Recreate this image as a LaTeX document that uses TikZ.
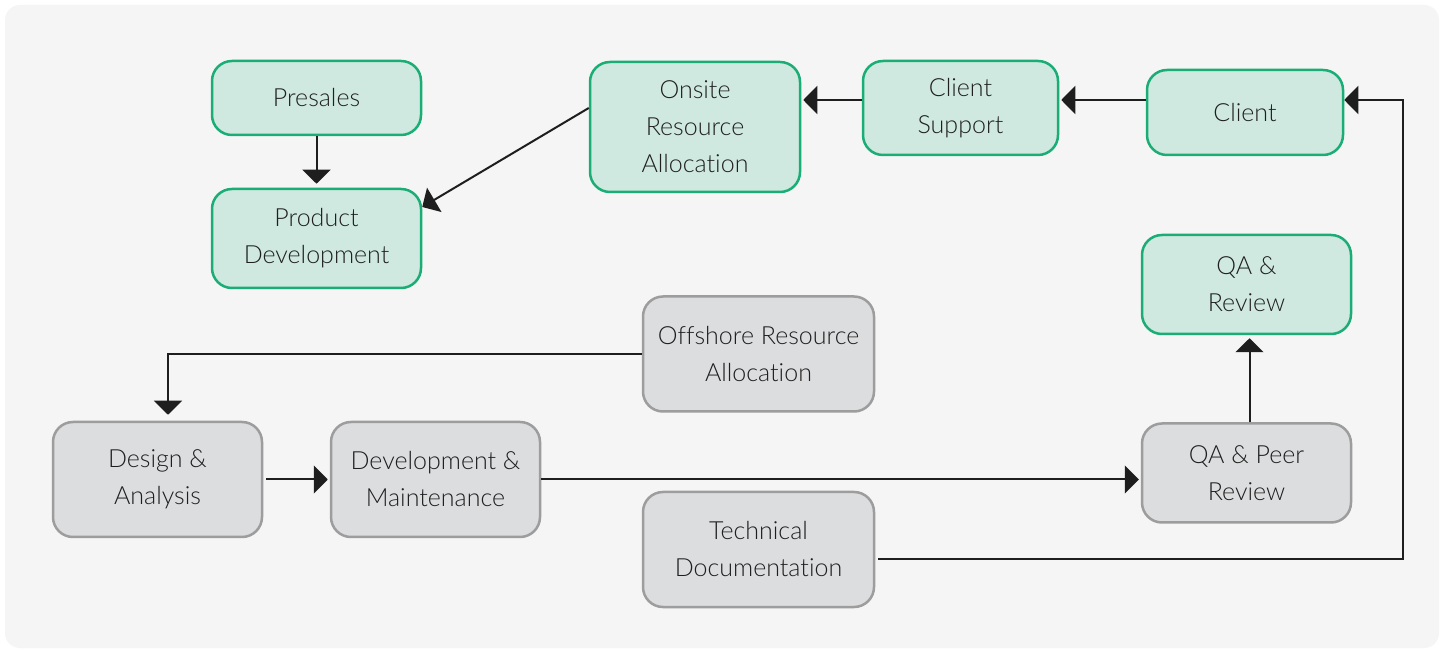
\documentclass[tikz,border=0pt]{standalone}
\usepackage{fontspec}
\setmainfont{Lato Light}[Ligatures=NoCommon]
\usetikzlibrary{arrows.meta}
\definecolor{bgc}{HTML}{F5F5F5}
\definecolor{gfill}{HTML}{CFE9E0}
\definecolor{gdraw}{HTML}{1AAE76}
\definecolor{hfill}{HTML}{DCDDDF}
\definecolor{hdraw}{HTML}{9D9D9D}
\definecolor{txtc}{HTML}{1F1F1F}
\definecolor{arrc}{HTML}{1E1E1E}
\tikzset{
  box/.style={rectangle, rounded corners=10pt, line width=1.25pt, align=center,
    text=txtc, font=\fontsize{12.5}{18.5}\selectfont, inner sep=0pt},
  gbox/.style={box, fill=gfill, draw=gdraw},
  hbox/.style={box, fill=hfill, draw=hdraw},
  arr/.style={draw=arrc, line width=1pt, -{Triangle[length=7pt,width=14pt]}}
}
\begin{document}
\begin{tikzpicture}[x=0.5pt,y=-0.5pt]
\fill[white] (0,0) rectangle (1445,651);
\useasboundingbox (0,0) rectangle (1445,651);
\fill[bgc, rounded corners=7.5pt] (5,5) rectangle (1439,648);
% green nodes
\node[gbox, minimum width=104.5pt, minimum height=37pt] (pres) at (316.5,98) {Presales};
\node[gbox, minimum width=104.5pt, minimum height=49.5pt] (pd) at (316.5,238.5) {Product\\Development};
\node[gbox, minimum width=105pt, minimum height=65pt] (onsite) at (695,127) {Onsite\\Resource\\Allocation};
\node[gbox, minimum width=97.5pt, minimum height=47pt] (cs) at (960.5,108) {Client\\Support};
\node[gbox, minimum width=98pt, minimum height=42.5pt] (client) at (1245,112.5) {Client};
\node[gbox, minimum width=104.5pt, minimum height=49.5pt] (qar) at (1246.5,284.5) {QA \&\\Review};
% gray nodes
\node[hbox, minimum width=115.5pt, minimum height=57.5pt] (off) at (758.5,354) {Offshore Resource\\Allocation};
\node[hbox, minimum width=104.5pt, minimum height=57.5pt] (da) at (157.5,479.5) {Design \&\\Analysis};
\node[hbox, minimum width=104.5pt, minimum height=57.5pt] (dm) at (435.5,479.5) {Development \&\\Maintenance};
\node[hbox, minimum width=104.5pt, minimum height=49.5pt] (qap) at (1246.5,473) {QA \& Peer\\Review};
\node[hbox, minimum width=115.5pt, minimum height=57.5pt] (td) at (758.5,549.5) {Technical\\Documentation};
% connectors
\draw[arr, shorten >=2pt] (pres.south) -- (pd.north);
\draw[arr] ([yshift=9.5pt]onsite.west) -- ([yshift=15.75pt]pd.east);
\coordinate (a1) at ([yshift=4pt]cs.west);
\draw[arr, shorten >=1pt] (a1) -- (a1 -| onsite.east);
\coordinate (a2) at ([yshift=6.25pt]client.west);
\draw[arr, shorten >=1pt] (a2) -- (a2 -| cs.east);
\draw[arr, shorten >=3pt] (off.west) -| ([xshift=5.25pt]da.north);
\draw[arr, shorten <=1.5pt, shorten >=1pt] (da.east) -- (dm.west);
\coordinate (a3) at ([yshift=0pt]dm.east);
\draw[arr, shorten >=1pt] (a3) -- (a3 -| qap.west);
\draw[arr, shorten >=1.5pt] ([xshift=1.5pt]qap.north) -- ([xshift=1.5pt]qar.south);
\coordinate (corner) at (1403,100);
\coordinate (a4) at ([yshift=-4.75pt]td.east);
\draw[arr, shorten <=1.5pt] (a4) -| (corner) -- ([yshift=6.25pt]client.east);
\end{tikzpicture}
\end{document}
